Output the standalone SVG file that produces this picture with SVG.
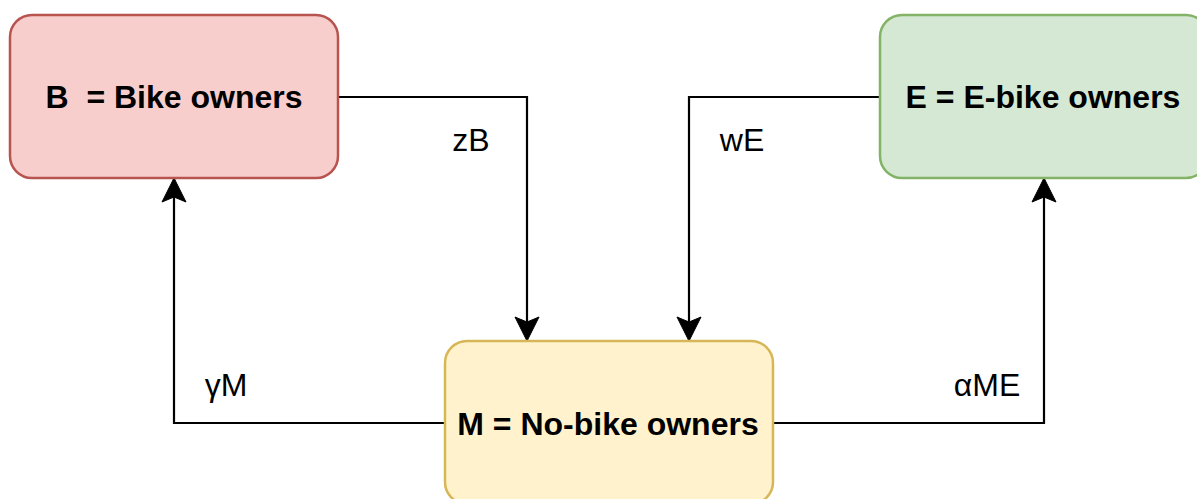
<svg xmlns="http://www.w3.org/2000/svg" width="1197" height="499" viewBox="0 0 1197 499">
<style>
.box{stroke-width:2.5}
.t{font-family:"Liberation Sans",Arial,sans-serif;font-size:32px;fill:#000;text-anchor:middle}
.b{font-weight:bold}
.c{fill:none;stroke:#000;stroke-width:2.2}
</style>
<defs>
<marker id="arr" markerUnits="userSpaceOnUse" viewBox="-1 -13 26 26" markerWidth="26" markerHeight="26" refX="24" refY="0" orient="auto">
<path d="M0,-12 L24,0 L0,12 L5,0 Z" fill="#000" stroke="#000" stroke-width="1"/>
</marker>
</defs>
<rect width="1197" height="499" fill="#fff"/>
<g id="connectors">
<path class="c" d="M338,97 H527 V341" marker-end="url(#arr)"/>
<path class="c" d="M880,97 H689 V341" marker-end="url(#arr)"/>
<path class="c" d="M445,423 H174 V178" marker-end="url(#arr)"/>
<path class="c" d="M772,423 H1044 V178" marker-end="url(#arr)"/>
<text class="t" x="471" y="151">zB</text>
<text class="t" x="742" y="151">wE</text>
<text class="t" x="226" y="396">γM</text>
<text class="t" x="987" y="396">αME</text>
</g>
<g id="nodeB">
<rect class="box" x="10" y="15" width="328" height="163" rx="22" fill="#f8cecc" stroke="#b85450"/>
<text class="t b" x="174" y="108" xml:space="preserve">B  = Bike owners</text>
</g>
<g id="nodeE">
<rect class="box" x="880" y="15" width="328" height="163" rx="22" fill="#d5e8d4" stroke="#82b366"/>
<text class="t b" x="1043" y="108">E = E-bike owners</text>
</g>
<g id="nodeM">
<rect class="box" x="445" y="341" width="328" height="163" rx="22" fill="#fff2cc" stroke="#d6b656"/>
<text class="t b" x="608" y="435">M = No-bike owners</text>
</g>
</svg>
